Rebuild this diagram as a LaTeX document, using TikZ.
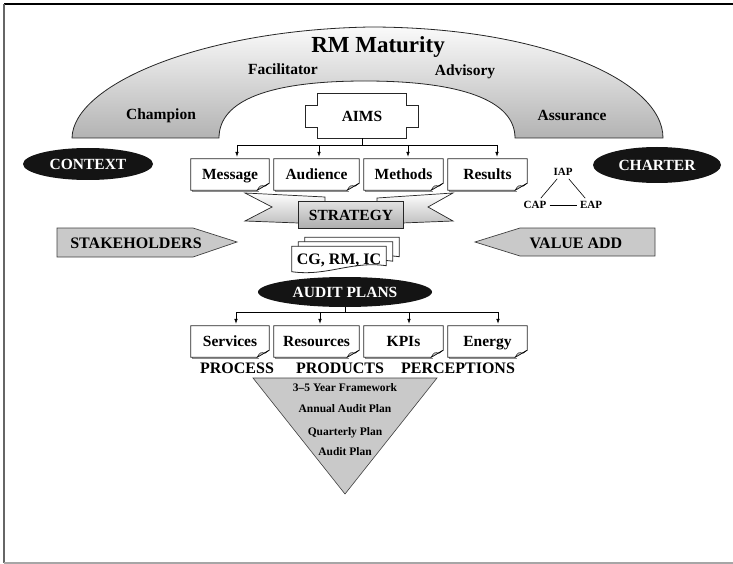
\documentclass[tikz,border=0pt]{standalone}
\usepackage{fontspec}
\setmainfont{Liberation Serif}
\usetikzlibrary{calc,shapes.geometric,arrows.meta}
\pgfdeclarelayer{bg}
\pgfsetlayers{bg,main}

% page with a curled bottom-right corner, drawn around a node
\newcommand\curlpage[1]{%
  \draw[black!45, line width=0.8pt] ($(#1.north west)+(1.4,1.4)$) -- ($(#1.south west)+(1.4,1.4)$) -- ($(#1.south east)+(-10.6,1.4)$);
  \draw[pageline, fill=white] (#1.north west) -- (#1.north east) -- ($(#1.south east)+(0,-7)$)
    -- ($(#1.south east)+(-12,0)$) -- (#1.south west) -- cycle;
  \draw[line width=0.5pt, fill=black!20] ($(#1.south east)+(-12,0)$) .. controls ($(#1.south east)+(-9,-5)$) .. ($(#1.south east)+(-4,-4)$)
    -- ($(#1.south east)+(0,-7)$) -- cycle;
}
% page with a wavy bottom edge, shifted by (#2,#3)
\newcommand\wavepage[3]{%
  \draw[pageline, fill=white] ($(#1.north west)+(#2,#3)$) -- ($(#1.north east)+(#2,#3)$)
    -- ($(#1.south east)+(#2,#3-6)$)
    .. controls ($(#1.south east)+(#2-35,#3-11)$) and ($(#1.south west)+(#2+35,#3+5)$) .. ($(#1.south west)+(#2,#3)$)
    -- cycle;
}

\begin{document}
\begin{tikzpicture}[x=1pt,y=-1pt,
  lbl/.style={font=\bfseries\fontsize{15.5}{17}\selectfont, inner sep=0pt, text height=10.3pt, text depth=0pt},
  big/.style={font=\bfseries\fontsize{16}{18}\selectfont, inner sep=0pt, text height=10.6pt, text depth=0pt},
  small/.style={font=\bfseries\fontsize{11}{12}\selectfont, inner sep=3pt, text height=7.3pt, text depth=0pt},
  tri/.style={font=\bfseries\fontsize{11.5}{12}\selectfont, inner sep=0pt, text height=7.6pt, text depth=0pt},
  docnode/.style={lbl, minimum height=31pt},
  pageline/.style={draw=black!85, line width=0.8pt},
  darkoval/.style={ellipse, fill=black!92, text=white, lbl, inner sep=0pt},
  graybody/.style={fill=black!21, draw=black!75, line width=0.7pt},
  tap/.style={-{Latex[length=5pt,width=3.6pt]}, line width=0.6pt, shorten >=2pt},
  bus/.style={line width=0.6pt}
]
\useasboundingbox (0,0) rectangle (733,564);

% frame
\draw[line width=1.5pt] (4,4) -- (733,4);
\draw[line width=2pt, black!60] (4,4) -- (4,563);
\draw[line width=1.5pt, black!35] (4,563) -- (733,563);

% ---------- nodes ----------
\node[lbl, font=\bfseries\fontsize{23}{25}\selectfont, text height=15.2pt] (rm) at (378,45) {RM Maturity};
\node[lbl] (facil) at (283,69) {Facilitator};
\node[lbl] (advis) at (465,70) {Advisory};
\node[lbl] (champ) at (161,114) {Champion};
\node[lbl] (assur) at (572,115) {Assurance};

\node[lbl, minimum width=88pt, minimum height=44pt] (aims) at (362,116) {AIMS};

\node[docnode, minimum width=78pt] (msg) at (230,174.5) {Message};
\node[docnode, minimum width=85pt] (aud) at (316.5,174.5) {Audience};
\node[docnode, minimum width=79pt] (met) at (403.5,174.5) {Methods};
\node[docnode, minimum width=79pt] (res) at (487.5,174.5) {Results};

\node[darkoval, minimum width=130pt, minimum height=32pt] (context) at (88,164) {CONTEXT};
\node[darkoval, minimum width=128pt, minimum height=36pt] (charter) at (657,165) {CHARTER};

\node[small] (iap) at (563,172) {IAP};
\node[small] (cap) at (535,205) {CAP};
\node[small] (eap) at (591,205) {EAP};

\node[lbl, minimum width=104pt, minimum height=26pt] (strat) at (351,215) {STRATEGY};

\node[big] (stake) at (136,243) {STAKEHOLDERS};
\node[big] (value) at (576,243) {VALUE ADD};

\node[big, minimum width=94pt, minimum height=25pt] (cg) at (339,259) {CG, RM, IC};

\node[darkoval, minimum width=174pt, minimum height=30pt] (aplans) at (345,292) {AUDIT PLANS};

\node[docnode, minimum width=78pt] (srv) at (230,341.5) {Services};
\node[docnode, minimum width=85pt] (rsc) at (316.5,341.5) {Resources};
\node[docnode, minimum width=79pt] (kpi) at (403.5,341.5) {KPIs};
\node[docnode, minimum width=79pt] (nrg) at (487.5,341.5) {Energy};

\node[big] (process) at (237,368.5) {PROCESS};
\node[big] (products) at (340,368.5) {PRODUCTS};
\node[big] (percept) at (458,368.5) {PERCEPTIONS};

\node[tri] (fw) at (345,388) {3\textendash5 Year Framework};
\node[tri] (annual) at (345,409) {Annual Audit Plan};
\node[tri] (quarter) at (345,432) {Quarterly Plan};
\node[tri] (audit) at (345,452) {Audit Plan};

% ---------- shapes behind the text ----------
\begin{pgfonlayer}{bg}
  % maturity arch
  \draw[draw=black!85, line width=0.8pt, top color=black!2, bottom color=black!30]
    (72,138) .. controls (73,85) and (200,30) .. (370,27)
    .. controls (540,27) and (663,80) .. (663,138) -- (515,138)
    .. controls (515,100) and (460,81) .. (365,81)
    .. controls (270,81) and (219,100) .. (219,138) -- cycle;

  % AIMS box with side tabs
  \draw[pageline, fill=white]
    (aims.north west) -- (aims.north east) -- ($(aims.north east)+(0,12)$) -- ($(aims.north east)+(12,12)$)
    -- ($(aims.south east)+(12,-11)$) -- ($(aims.south east)+(0,-11)$) -- (aims.south east)
    -- (aims.south west) -- ($(aims.south west)+(0,-11)$) -- ($(aims.south west)+(-12,-11)$)
    -- ($(aims.north west)+(-12,12)$) -- ($(aims.north west)+(0,12)$) -- cycle;

  \curlpage{msg}\curlpage{aud}\curlpage{met}\curlpage{res}
  \curlpage{srv}\curlpage{rsc}\curlpage{kpi}\curlpage{nrg}

  % strategy ribbon
  \draw[pageline, line width=0.7pt, top color=white, bottom color=black!25]
    (245,193) -- (325,197) -- (325,224) -- (245,221) -- (272,207) -- cycle;
  \draw[pageline, line width=0.7pt, top color=white, bottom color=black!25]
    (377,198) -- (453,193) -- (428,207) -- (453,221) -- (377,224) -- cycle;
  \draw[pageline, top color=black!12, middle color=white, bottom color=black!32]
    (strat.north west) rectangle (strat.south east);

  % stacked pages
  \wavepage{cg}{13}{-9}
  \wavepage{cg}{6.5}{-4.5}
  \wavepage{cg}{0}{0}

  % arrows
  \draw[graybody] (57,228) -- (193,228) -- (237,242) -- (193,257) -- (57,257) -- cycle;
  \draw[graybody] (475,242) -- (520,228) -- (655,228) -- (655,256) -- (520,256) -- cycle;

  % planning funnel
  \draw[graybody, line width=0.6pt] (253,378) -- (437,378) -- (345,494) -- cycle;
\end{pgfonlayer}

% ---------- connectors ----------
\coordinate (busA) at (237,145);
\coordinate (busB) at (319,145);
\coordinate (busC) at (408,145);
\coordinate (busD) at (497,145);
\draw[bus] (aims.south) -- (aims.south |- busA);
\draw[bus] (busA) -- (busD);
\draw[tap] (busA) -- (busA |- msg.north);
\draw[tap] (busB) -- (busB |- aud.north);
\draw[tap] (busC) -- (busC |- met.north);
\draw[tap] (busD) -- (busD |- res.north);

\coordinate (lowA) at (236,312);
\coordinate (lowB) at (320,312);
\coordinate (lowC) at (409,312);
\coordinate (lowD) at (498,312);
\draw[bus] (aplans.south) -- (aplans.south |- lowA);
\draw[bus] (lowA) -- (lowD);
\draw[tap] (lowA) -- (lowA |- srv.north);
\draw[tap] (lowB) -- (lowB |- rsc.north);
\draw[tap] (lowC) -- (lowC |- kpi.north);
\draw[tap] (lowD) -- (lowD |- nrg.north);

\draw[line width=0.6pt] (iap) -- (cap);
\draw[line width=0.6pt] (iap) -- (eap);
\draw[line width=0.6pt] (cap) -- (eap);
\end{tikzpicture}
\end{document}
